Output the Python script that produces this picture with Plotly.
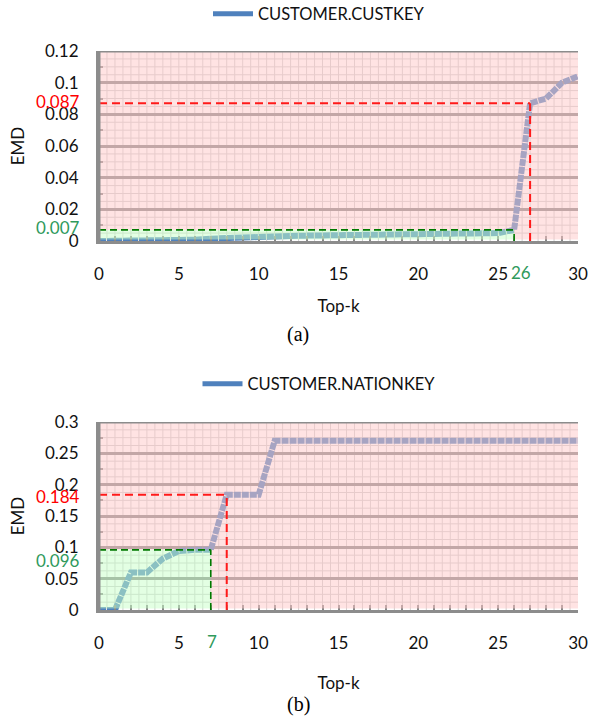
import plotly.graph_objects as go

# ---------------- data ----------------
top_k = list(range(31))
emd_custkey = [0, 0, 0, 0, 0, 0, 0.0008, 0.0015, 0.002, 0.0025, 0.003,
               0.003, 0.0032, 0.0034, 0.0036, 0.0038, 0.004, 0.004, 0.0041, 0.0042, 0.0044,
               0.0045, 0.0046, 0.0048, 0.005, 0.005, 0.007, 0.087, 0.09, 0.1, 0.104]
emd_nationkey = [0, 0, 0.06, 0.06, 0.082, 0.094, 0.096, 0.096, 0.184, 0.184, 0.184,
                 0.27, 0.27, 0.27, 0.27, 0.27, 0.27, 0.27, 0.27, 0.27, 0.27,
                 0.27, 0.27, 0.27, 0.27, 0.27, 0.27, 0.27, 0.27, 0.27, 0.27]
series_names = ["CUSTOMER.CUSTKEY", "CUSTOMER.NATIONKEY"]
captions = ["(a)", "(b)"]
x_ticks = [0, 5, 10, 15, 20, 25, 30]
y_max = [0.12, 0.3]
y_dtick = [0.02, 0.05]
# thresholds: (green k, green emd, red k, red emd)
green_k = [26, 7]
green_emd = [0.007, 0.096]
red_k = [27, 8]
red_emd = [0.087, 0.184]
green_emd_labels = ["0.007", "0.096"]
red_emd_labels = ["0.087", "0.184"]

# ---------------- style ----------------
W, H = 598, 717
FONT = "Lato"
FS = 17
LINE_BLUE = "#4F81BD"
GRID_GRAY = "#868686"
AXIS_GRAY = "#8c8c8c"
GREEN_TXT = "#2f9a5c"
X_MAX = 30

# pixel layout of the two plot areas (left, right, top, bottom)
panels = [(99, 578, 51, 241), (99, 578, 422, 610)]
caption_y = [334, 704]
legend_y = [14, 384]
xtitle_standoff = [17, 25]
red_label_shift = [2, -2]
green_label_shift = [2, -11]

fig = go.Figure()
shapes = []
annotations = []

for i, (data, name) in enumerate([(emd_custkey, series_names[0]), (emd_nationkey, series_names[1])]):
    sfx = "" if i == 0 else str(i + 1)
    xr, yr = "x" + sfx, "y" + sfx
    left, right, ptop, pbot = panels[i]
    ymax = y_max[i]
    px_per_y = (pbot - ptop) / ymax
    b = 1.5 / px_per_y  # overlay starts slightly above the bottom edge

    # main series (broken slightly by the overlaid grid paper)
    fig.add_trace(go.Scatter(x=top_k, y=data, mode="lines",
                             line=dict(color=LINE_BLUE, width=6, dash="7px,1px"),
                             showlegend=False, xaxis=xr, yaxis=yr, hoverinfo="skip"))
    # legend entry (solid)
    fig.add_trace(go.Scatter(x=[None], y=[None], mode="lines",
                             line=dict(color=LINE_BLUE, width=5), name=name,
                             legend="legend" if i == 0 else "legend2",
                             xaxis=xr, yaxis=yr))

    # minor grid (below)
    k = 0.5
    while k < X_MAX:
        shapes.append(dict(type="line", xref=xr, yref=yr, x0=k, x1=k, y0=0, y1=ymax,
                           line=dict(color="#cfcfcf", width=1), layer="below"))
        k += 0.5
    q = y_dtick[i] / 4
    j = 1
    while j * q < ymax - 1e-9:
        shapes.append(dict(type="line", xref=xr, yref=yr, x0=0, x1=X_MAX, y0=j * q, y1=j * q,
                           line=dict(color="#cfcfcf", width=1), layer="below"))
        j += 1

    gx, gy = green_k[i], green_emd[i]
    rx, ry = red_k[i], red_emd[i]
    # pink overlay (L-shape around the green box)
    path = (f"M 0,{gy} L {gx},{gy} L {gx},{b} L {X_MAX},{b} "
            f"L {X_MAX},{ymax} L 0,{ymax} Z")
    shapes.append(dict(type="path", xref=xr, yref=yr, path=path,
                       fillcolor="rgb(255,200,200)", opacity=0.5,
                       line=dict(width=0), layer="above"))
    # green overlay
    shapes.append(dict(type="rect", xref=xr, yref=yr, x0=0, x1=gx, y0=b, y1=gy,
                       fillcolor="rgb(200,255,200)", opacity=0.5,
                       line=dict(width=0), layer="above"))
    # dashed threshold lines
    shapes.append(dict(type="line", xref=xr, yref=yr, x0=0, x1=gx, y0=gy, y1=gy,
                       line=dict(color="#007a00", width=1.6, dash="7px,4px"), layer="above"))
    shapes.append(dict(type="line", xref=xr, yref=yr, x0=gx, x1=gx, y0=0, y1=gy,
                       line=dict(color="#007a00", width=1.6, dash="7px,4px"), layer="above"))
    shapes.append(dict(type="line", xref=xr, yref=yr, x0=0, x1=rx, y0=ry, y1=ry,
                       line=dict(color="#ff1a1a", width=2, dash="8px,5px"), layer="above"))
    shapes.append(dict(type="line", xref=xr, yref=yr, x0=rx, x1=rx, y0=0, y1=ry,
                       line=dict(color="#ff1a1a", width=2, dash="8px,5px"), layer="above"))
    # top and left borders
    shapes.append(dict(type="line", xref=xr, yref=yr, x0=0, x1=X_MAX, y0=ymax, y1=ymax,
                       line=dict(color=AXIS_GRAY, width=3), layer="above"))
    shapes.append(dict(type="line", xref=xr, yref=yr, x0=0, x1=0, y0=0, y1=ymax,
                       line=dict(color=AXIS_GRAY, width=3), layer="above"))

    # colored value labels
    annotations.append(dict(xref="paper", yref=yr, x=82 / W, y=ry, xanchor="right", yanchor="middle",
                            text=red_emd_labels[i], showarrow=False,
                            font=dict(family=FONT, size=FS, color="#ff0000"),
                            yshift=red_label_shift[i]))
    annotations.append(dict(xref="paper", yref=yr, x=82 / W, y=gy, xanchor="right", yanchor="middle",
                            text=green_emd_labels[i], showarrow=False,
                            font=dict(family=FONT, size=FS, color=GREEN_TXT),
                            yshift=green_label_shift[i]))
    annotations.append(dict(xref=xr, yref="paper", x=gx, y=1 - (pbot + 31) / H,
                            xanchor="center", yanchor="middle", text=str(gx), showarrow=False,
                            font=dict(family=FONT, size=FS, color=GREEN_TXT),
                            xshift=7 if i == 0 else 1))
    annotations.append(dict(xref="paper", yref="paper", x=298 / W,
                            y=1 - caption_y[i] / H, xanchor="center", yanchor="middle",
                            text=captions[i], showarrow=False,
                            font=dict(family="Liberation Serif", size=20, color="#000")))

    xa = dict(domain=[left / W, right / W], range=[0, X_MAX], tickvals=x_ticks,
              ticks="inside", ticklen=5, tickwidth=2, tickcolor=GRID_GRAY,
              minor=dict(dtick=1, ticks="inside", ticklen=5, tickwidth=2, tickcolor=GRID_GRAY,
                         showgrid=False),
              showgrid=False, zeroline=False, showline=True, linecolor=AXIS_GRAY, linewidth=3,
              tickfont=dict(family=FONT, size=FS, color="#111"), ticklabelstandoff=16,
              title=dict(text="Top-k", font=dict(family=FONT, size=FS, color="#111"),
                         standoff=xtitle_standoff[i]),
              anchor=yr, fixedrange=True, automargin=False)
    ya = dict(domain=[1 - pbot / H, 1 - ptop / H], range=[0, ymax], dtick=y_dtick[i], tick0=0,
              ticks="", showgrid=True, gridcolor=GRID_GRAY, gridwidth=2.5,
              minor=dict(dtick=y_dtick[i] / 2, ticks="inside", ticklen=4, tickwidth=2,
                         tickcolor=GRID_GRAY, showgrid=False),
              zeroline=False, showline=True, linecolor=AXIS_GRAY, linewidth=3,
              tickfont=dict(family=FONT, size=FS, color="#111"), ticklabelstandoff=14,
              title=dict(text="EMD", font=dict(family=FONT, size=FS, color="#111"), standoff=17),
              anchor=xr, fixedrange=True, automargin=False)
    fig.update_layout(**{"xaxis" + sfx: xa, "yaxis" + sfx: ya})

legend_common = dict(xanchor="center", yanchor="middle", orientation="h",
                     font=dict(family=FONT, size=16.5, color="#111"),
                     bgcolor="rgba(0,0,0,0)", itemwidth=40)
fig.update_layout(
    width=W, height=H,
    margin=dict(l=0, r=0, t=0, b=0, autoexpand=False),
    paper_bgcolor="white", plot_bgcolor="white",
    shapes=shapes, annotations=annotations,
    legend=dict(x=319 / W, y=1 - legend_y[0] / H, **legend_common),
    legend2=dict(x=319 / W, y=1 - legend_y[1] / H, **legend_common),
)

fig.write_html("out.html", config={"displayModeBar": False},
               post_script="document.body.style.margin='0px';document.body.style.overflow='hidden';")
